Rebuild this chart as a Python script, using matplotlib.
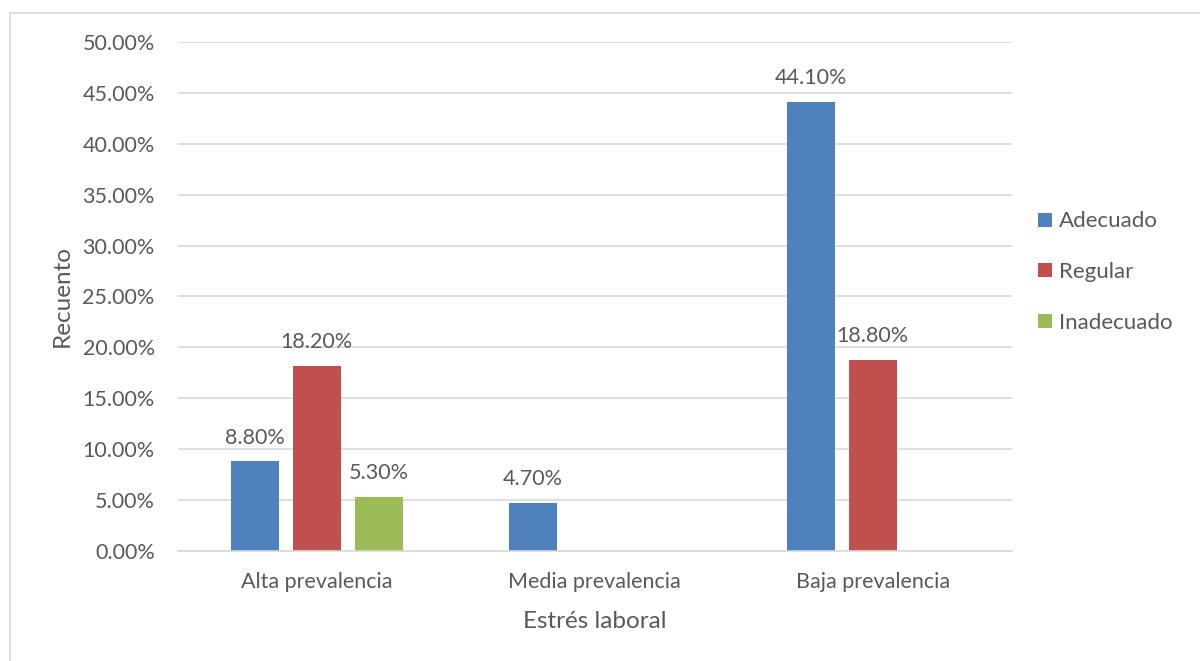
import matplotlib
matplotlib.use("Agg")
import matplotlib.pyplot as plt
from matplotlib.lines import Line2D
from matplotlib.ticker import FuncFormatter
import numpy as np

TEXT, GRID = "#595959", "#D9D9D9"
plt.rcParams["font.family"] = ["Lato", "DejaVu Sans"]

categories = ["Alta prevalencia", "Media prevalencia", "Baja prevalencia"]
series = ["Adecuado", "Regular", "Inadecuado"]
adecuado = [8.8, 4.7, 44.1]
regular = [18.2, np.nan, 18.8]
inadecuado = [5.3, np.nan, np.nan]
colors = ["#4F81BD", "#C0504D", "#9BBB59"]

fig = plt.figure(figsize=(12, 6.61), dpi=100)
ax = fig.add_axes([0.148, 0.1664, 0.695, 0.7701])

# outer chart frame (top and left edges only show)
fig.add_artist(Line2D([0.0085, 1.0], [0.980, 0.980], color=GRID, lw=1.2,
                      transform=fig.transFigure))
fig.add_artist(Line2D([0.0085, 0.0085], [0.0, 0.980], color=GRID, lw=1.2,
                      transform=fig.transFigure))

x = np.arange(len(categories))
width, step = 0.173, 0.223
for i, (name, vals, c) in enumerate(zip(series, [adecuado, regular, inadecuado], colors)):
    pos = x + (i - 1) * step
    ax.bar(pos, vals, width, color=c, label=name, zorder=3)
    for xp, v in zip(pos, vals):
        if np.isnan(v):
            continue
        ax.annotate(f"{v:.2f}%", (xp, v), xytext=(0, 10), textcoords="offset points",
                    ha="center", va="bottom", fontsize=15.5, color=TEXT)

ax.set_xlim(-0.5, 2.5)
ax.set_ylim(0, 50)
ax.set_yticks(np.arange(0, 51, 5))
ax.yaxis.set_major_formatter(FuncFormatter(lambda v, _: f"{v:.2f}%"))
ax.set_xticks(x, categories)
ax.tick_params(length=0, labelsize=15.5, labelcolor=TEXT)
ax.tick_params(axis="y", pad=16.5)
ax.tick_params(axis="x", pad=15)
ax.grid(axis="y", color=GRID, lw=1.2, zorder=0)
for s in ["top", "right", "left"]:
    ax.spines[s].set_visible(False)
ax.spines["bottom"].set_color(GRID)
ax.spines["bottom"].set_linewidth(1.2)
ax.spines["bottom"].set_zorder(4)

ax.set_xlabel("Estrés laboral", fontsize=17.5, color=TEXT, labelpad=14)
ax.set_ylabel("Recuento", fontsize=17.5, color=TEXT, labelpad=7)

ax.legend(loc="center left", bbox_to_anchor=(1.008, 0.548), frameon=False,
          fontsize=16, labelcolor=TEXT, handlelength=0.6, handleheight=0.6,
          handletextpad=0.35, labelspacing=1.38)

fig.savefig("out.png", dpi=100)
